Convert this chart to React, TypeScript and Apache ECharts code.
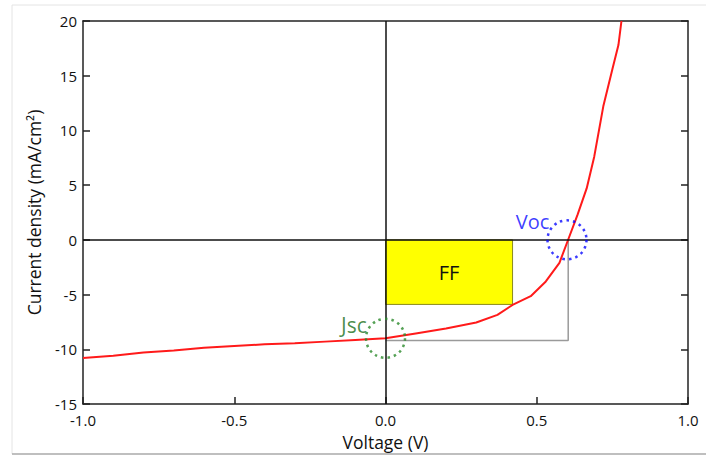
import React, { useEffect, useRef } from "react";
import * as echarts from "echarts";

const voltage = [-1.0, -0.9, -0.8, -0.7, -0.6, -0.5, -0.4, -0.3, -0.2, -0.1, 0, 0.1, 0.2, 0.3, 0.37, 0.42, 0.48, 0.53, 0.575, 0.605, 0.635, 0.665, 0.69, 0.72, 0.75, 0.77, 0.78];
const current = [-10.8, -10.6, -10.3, -10.1, -9.85, -9.7, -9.55, -9.45, -9.3, -9.15, -9.0, -8.55, -8.1, -7.55, -6.85, -5.95, -5.15, -3.8, -2.1, 0.1, 2.3, 4.7, 7.6, 12.2, 15.6, 17.8, 20.0];
const VOC = 0.604;
const JSC = -9.2;
const FF_CORNER = [0.42, -5.9];
const VOC_MARK = [0.6, 0];
const JSC_MARK = [0, -9.0];

const FONT = "Open Sans";

export default function App() {
  const ref = useRef<HTMLDivElement>(null);
  useEffect(() => {
    if (!ref.current) return;
    const chart = echarts.init(ref.current, undefined, { renderer: "svg" });
    const axisLine = { show: true, lineStyle: { color: "#222", width: 1.5 } };
    chart.setOption({
      animation: false,
      backgroundColor: "#fff",
      textStyle: { fontFamily: FONT },
      grid: { left: 83, right: 18, top: 21, bottom: 53 },
      graphic: [
        { type: "line", shape: { x1: 12, y1: 5, x2: 706, y2: 5 }, style: { stroke: "#e4e4e4", lineWidth: 1 } },
        { type: "line", shape: { x1: 12, y1: 5, x2: 12, y2: 454 }, style: { stroke: "#e4e4e4", lineWidth: 1 } },
        { type: "line", shape: { x1: 12, y1: 454, x2: 706, y2: 454 }, style: { stroke: "#aaa", lineWidth: 1.5 } },
      ],
      xAxis: [
        {
          type: "value", min: -1, max: 1, interval: 0.5, position: "bottom",
          name: "Voltage (V)", nameLocation: "middle", nameGap: 29,
          nameTextStyle: { fontSize: 17.5, color: "#111", fontFamily: FONT },
          axisLine: { ...axisLine, onZero: false },
          axisTick: { show: true, inside: true, length: 7, lineStyle: { color: "#222", width: 1.5 } },
          axisLabel: { fontSize: 15, color: "#111", margin: 8, formatter: (v: number) => v.toFixed(1) },
          splitLine: { show: false },
        },
        {
          type: "value", min: -1, max: 1, interval: 0.5, position: "top",
          axisLine: { ...axisLine, onZero: false },
          axisTick: { show: false }, axisLabel: { show: false }, splitLine: { show: false },
        },
      ],
      yAxis: [
        {
          type: "value", min: -15, max: 20, interval: 5, position: "left",
          name: "Current density (mA/cm²)", nameLocation: "middle", nameGap: 40,
          nameTextStyle: { fontSize: 17.5, color: "#111", fontFamily: FONT },
          axisLine: { ...axisLine, onZero: false },
          axisTick: { show: true, inside: true, length: 7, lineStyle: { color: "#222", width: 1.5 } },
          axisLabel: { fontSize: 15, color: "#111", margin: 6 },
          splitLine: { show: false },
        },
        {
          type: "value", min: -15, max: 20, interval: 5, position: "right",
          axisLine: { ...axisLine, onZero: false },
          axisTick: { show: true, inside: true, length: 7, lineStyle: { color: "#222", width: 1.5 } },
          axisLabel: { show: false }, splitLine: { show: false },
        },
      ],
      series: [
        {
          type: "line",
          data: [[0, JSC], [VOC, JSC], [VOC, 0]],
          symbol: "none",
          lineStyle: { color: "#9a9a9a", width: 1.5 },
          markArea: {
            silent: true,
            itemStyle: { color: "#ffff00", borderColor: "#8a8a20", borderWidth: 1 },
            label: { show: true, position: "inside", formatter: "FF", fontSize: 20, color: "#111", fontFamily: FONT },
            data: [[{ coord: [0, 0] }, { coord: FF_CORNER }]],
          },
          markLine: {
            silent: true,
            symbol: "none",
            label: { show: false },
            lineStyle: { color: "#111", width: 1.5, type: "solid" },
            data: [{ xAxis: 0 }, { yAxis: 0 }],
          },
          z: 2,
        },
        {
          type: "line",
          data: voltage.map((v, i) => [v, current[i]]),
          symbol: "none",
          lineStyle: { color: "#ff1a1a", width: 2 },
          z: 4,
        },
        {
          type: "scatter",
          data: [VOC_MARK],
          symbol: "circle",
          symbolSize: 39,
          itemStyle: { color: "rgba(0,0,0,0)", borderColor: "#0a0aff", borderWidth: 2.5, borderType: [2.5, 4] },
          label: { show: true, position: "left", formatter: "Voc", fontSize: 20, color: "#0a0aff", fontFamily: FONT, offset: [8, -18] },
          z: 5,
        },
        {
          type: "scatter",
          data: [JSC_MARK],
          symbol: "circle",
          symbolSize: 39,
          itemStyle: { color: "rgba(0,0,0,0)", borderColor: "#2a8a2a", borderWidth: 2.5, borderType: [2.5, 4] },
          label: { show: true, position: "left", formatter: "Jsc", fontSize: 21, color: "#1a701a", fontFamily: FONT, offset: [7, -13] },
          z: 5,
        },
      ],
    });
    return () => chart.dispose();
  }, []);
  return <div ref={ref} style={{ position: "absolute", left: 0, top: 0, width: 706, height: 457 }} />;
}
